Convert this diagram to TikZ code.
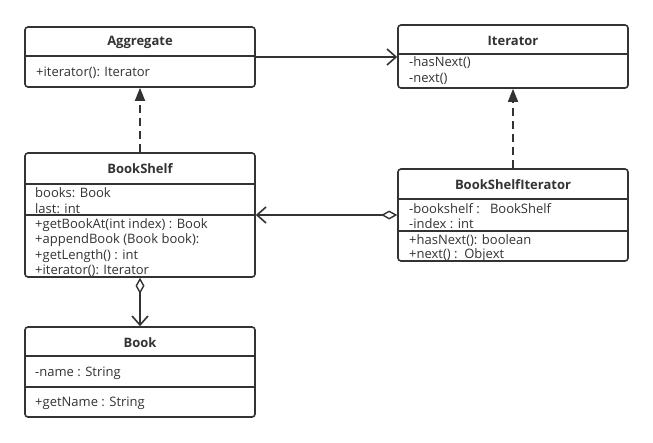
\documentclass[tikz,border=0pt]{standalone}
\usepackage{fontspec}
\setmainfont{Open Sans}
\usetikzlibrary{arrows.meta,positioning}
\definecolor{umlgray}{HTML}{333333}

\begin{document}
\begin{tikzpicture}[x=1pt,y=-1pt,
  classbox/.style={draw=umlgray, line width=1.6pt, rounded corners=3pt, minimum width=230pt, inner sep=0pt},
  ctitle/.style={font=\fontsize{13}{15}\selectfont\bfseries, text=umlgray},
  member/.style={font=\fontsize{13}{15}\selectfont, text=umlgray, anchor=west, inner sep=0pt},
  sepline/.style={draw=umlgray, line width=1.6pt},
  assoc/.style={draw=umlgray, line width=1.6pt, -{Straight Barb[length=9pt,width=16pt,line width=1.6pt]}},
  realize/.style={draw=umlgray, line width=1.6pt, dash pattern=on 8pt off 5pt, -{Triangle[length=13pt,width=10pt]}},
  aggr/.style={draw=umlgray, line width=1.6pt, {Diamond[open,length=16pt,width=9pt,line width=1.4pt]}-{Straight Barb[length=9pt,width=16pt,line width=1.6pt]}}]
\useasboundingbox[fill=white] (0,0) rectangle (653,442);

% class boxes
\node [classbox, minimum height=60pt] (agg) at (140,57) {};
\node [classbox, minimum height=63pt] (it) at (513,56.5) {};
\node [classbox, minimum height=124pt] (bs) at (140,215) {};
\node [classbox, minimum height=92pt] (bsi) at (513,215) {};
\node [classbox, minimum height=90pt] (book) at (140,372) {};

% Aggregate
\node [ctitle] (aggT) at (140,42) {Aggregate};
\draw [sepline] (25,56) -- (255,56);
\node [member] (aggM) at (36,72.5) {+iterator(): Iterator};

% Iterator
\node [ctitle] (itT) at (513,41) {Iterator};
\draw [sepline] (398,54) -- (628,54);
\node [member] (itM1) at (409,63) {-hasNext()};
\node [member] (itM2) at (409,79) {-next()};

% BookShelf
\node [ctitle] (bsT) at (140,169) {BookShelf};
\draw [sepline] (25,184) -- (255,184);
\draw [sepline] (25,215) -- (255,215);
\node [member] (bsA1) at (35,193) {books: Book};
\node [member] (bsA2) at (35,208.5) {last: int};
\node [member] (bsM1) at (35,225) {+getBookAt(int index) : Book};
\node [member] (bsM2) at (35,240.5) {+appendBook (Book book):};
\node [member] (bsM3) at (35,256) {+getLength() : int};
\node [member] (bsM4) at (35,271) {+iterator(): Iterator};

% BookShelfIterator
\node [ctitle] (bsiT) at (513,185) {BookShelfIterator};
\draw [sepline] (398,199) -- (628,199);
\node [member] (bsiA1) at (409,208.5) {-bookshelf :\ \ \ BookShelf};
\node [member] (bsiA2) at (409,224) {-index : int};
\draw [sepline] (398,231) -- (628,231);
\node [member] (bsiM1) at (409,240.5) {+hasNext(): boolean};
\node [member] (bsiM2) at (409,255.5) {+next() :\ \ Objext};

% Book
\node [ctitle] (bookT) at (140,343) {Book};
\draw [sepline] (25,356) -- (255,356);
\node [member] (bookA) at (35,373) {-name : String};
\draw [sepline] (25,387) -- (255,387);
\node [member] (bookM) at (35,403) {+getName : String};

% relations
\draw [assoc] (agg.east) -- (agg.east -| it.west);
\draw [realize] (bs.north) -- (agg.south);
\draw [realize] (bsi.north) -- (it.south);
\draw [aggr] (bsi.west) -- (bs.east);
\draw [aggr] (bs.south) -- (book.north);

\end{tikzpicture}
\end{document}
